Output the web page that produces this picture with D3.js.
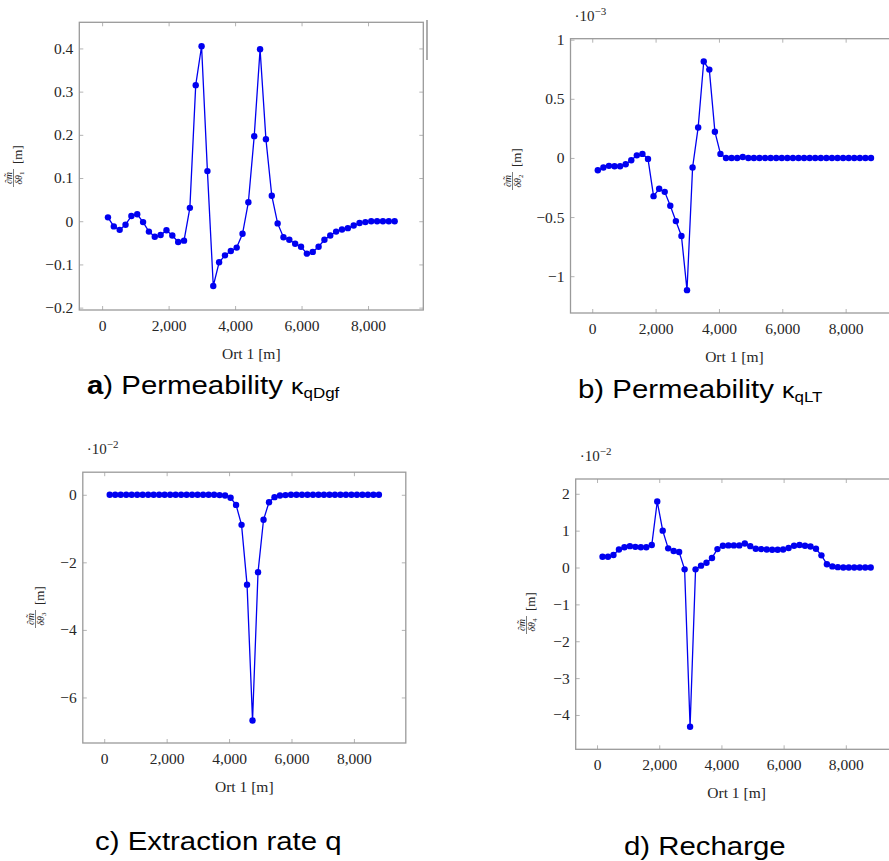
<!DOCTYPE html>
<html>
<head>
<meta charset="utf-8">
<script src="https://cdn.jsdelivr.net/npm/d3@7"></script>
<style>
  html, body { margin: 0; padding: 0; background: #ffffff; }
  svg { display: block; }
</style>
</head>
<body>
<script>
// Observation locations along the profile [m]
const location_m = [176, 352, 528, 704, 880, 1056, 1232, 1408, 1584, 1760,
  1936, 2112, 2288, 2464, 2640, 2816, 2992, 3168, 3344, 3520,
  3696, 3872, 4048, 4224, 4400, 4576, 4752, 4928, 5104, 5280,
  5456, 5632, 5808, 5984, 6160, 6336, 6512, 6688, 6864, 7040,
  7216, 7392, 7568, 7744, 7920, 8096, 8272, 8448, 8624, 8800];

// Sensitivity of the simulated head to permeability κ_qDgf [m]
const sensKqDgf = [0.009, -0.012, -0.020, -0.008, 0.012, 0.016, -0.002, -0.024, -0.036, -0.032,
  -0.021, -0.033, -0.048, -0.045, 0.031, 0.315, 0.405, 0.116, -0.150, -0.095,
  -0.079, -0.069, -0.061, -0.029, 0.044, 0.197, 0.398, 0.190, 0.059, -0.005,
  -0.037, -0.043, -0.052, -0.059, -0.075, -0.071, -0.059, -0.043, -0.033, -0.024,
  -0.019, -0.016, -0.010, -0.004, -0.002, 0, 0, 0, 0, 0];

// Sensitivity to permeability κ_qLT [m], in units of 1e-3
const sensKqLT = [-0.104, -0.081, -0.067, -0.070, -0.070, -0.053, -0.020, 0.022, 0.034, -0.008,
  -0.323, -0.261, -0.287, -0.404, -0.534, -0.660, -1.118, -0.081, 0.258, 0.815,
  0.747, 0.222, 0.034, 0, 0, 0, 0.008, 0, 0, 0,
  0, 0, 0, 0, 0, 0, 0, 0, 0, 0,
  0, 0, 0, 0, 0, 0, 0, 0, 0, 0];

// Sensitivity to the extraction rate q [m], in units of 1e-2
const sensExtraction = [0, 0, 0, 0, 0, 0, 0, 0, 0, 0,
  0, 0, 0, 0, 0, 0, 0, 0, 0, 0,
  -0.01, -0.02, -0.09, -0.30, -0.89, -2.66, -6.68, -2.29, -0.74, -0.22,
  -0.07, -0.02, -0.01, 0, 0, 0, 0, 0, 0, 0,
  0, 0, 0, 0, 0, 0, 0, 0, 0, 0];

// Sensitivity to recharge [m], in units of 1e-2
const sensRecharge = [0.29, 0.29, 0.34, 0.49, 0.55, 0.58, 0.56, 0.55, 0.55, 0.61,
  1.79, 1.00, 0.52, 0.45, 0.42, -0.05, -4.32, -0.05, 0.05, 0.13,
  0.26, 0.50, 0.59, 0.60, 0.60, 0.60, 0.65, 0.58, 0.51, 0.50,
  0.49, 0.48, 0.48, 0.49, 0.53, 0.59, 0.61, 0.59, 0.57, 0.51,
  0.33, 0.09, 0.03, 0.01, 0, 0, 0, 0, 0, 0];

// Axis ticks
const xTicks = [0, 2000, 4000, 6000, 8000];
const yTicksA = [-0.2, -0.1, 0, 0.1, 0.2, 0.3, 0.4];
const yTicksB = [-1, -0.5, 0, 0.5, 1];
const yTicksC = [-6, -4, -2, 0];
const yTicksD = [-4, -3, -2, -1, 0, 1, 2];

// Texts
const xAxisLabel = "Ort 1 [m]";
const parameterIndex = ["1", "2", "3", "4"];
const scaleExponents = [null, "−3", "−2", "−2"];
const captionLetters = ["a", "b", "c", "d"];
const captionTexts = [") Permeability ", ") Permeability ", ") Extraction rate q", ") Recharge"];
const captionSubscripts = ["qDgf", "qLT", null, null];

const W = 889, H = 861;
const serif = "'Liberation Serif', 'DejaVu Serif', serif";
const sans = "'Liberation Sans', Arial, sans-serif";
const markColor = "#0000f0";
const frameColor = "#9a9a9a";
const tickColor = "#b4b4b4";
const textColor = "#262626";

const svg = d3.select("body").append("svg")
  .attr("width", W).attr("height", H)
  .attr("viewBox", `0 0 ${W} ${H}`);

// Panel frames and label anchors
const panels = [
  { values: sensKqDgf, yTicks: yTicksA, left: 79.3, right: 423.3, top: 22.3, bottom: 310,
    ylab: [15, 167], cap: [87, 394] },
  { values: sensKqLT, yTicks: yTicksB, left: 570.5, right: 898.3, top: 38.7, bottom: 313,
    ylab: [514, 170], cap: [578, 398] },
  { values: sensExtraction, yTicks: yTicksC, left: 82.8, right: 405.8, top: 472.2, bottom: 743,
    ylab: [37, 608], cap: [95, 850] },
  { values: sensRecharge, yTicks: yTicksD, left: 575.7, right: 897.5, top: 479, bottom: 749.3,
    ylab: [528, 614], cap: [624, 855] }
];

// Axis limits enlarged by 10 % of the data range on each side
function enlarged(ext) {
  const pad = (ext[1] - ext[0]) * 0.1;
  return [ext[0] - pad, ext[1] + pad];
}

const xFmt = d3.format(",");
const yFmt = d3.format("");

panels.forEach((p, i) => {
  const x = d3.scaleLinear().domain(enlarged(d3.extent(location_m))).range([p.left, p.right]);
  const y = d3.scaleLinear().domain(enlarged(d3.extent(p.values))).range([p.bottom, p.top]);
  const g = svg.append("g");

  // inward ticks on all four sides
  const styleAxis = sel => {
    sel.select(".domain").remove();
    sel.selectAll(".tick line").attr("stroke", tickColor).attr("stroke-width", 1);
    sel.selectAll(".tick text").attr("fill", textColor)
      .attr("font-family", serif).attr("font-size", 15.5);
  };
  g.append("g").attr("transform", `translate(0,${p.bottom})`)
    .call(d3.axisBottom(x).tickValues(xTicks).tickFormat(xFmt).tickSizeInner(-4).tickSizeOuter(0).tickPadding(9.5))
    .call(styleAxis);
  g.append("g").attr("transform", `translate(0,${p.top})`)
    .call(d3.axisTop(x).tickValues(xTicks).tickFormat("").tickSizeInner(-4).tickSizeOuter(0))
    .call(styleAxis);
  g.append("g").attr("transform", `translate(${p.left},0)`)
    .call(d3.axisLeft(y).tickValues(p.yTicks).tickFormat(yFmt).tickSizeInner(-4).tickSizeOuter(0).tickPadding(6))
    .call(styleAxis);
  g.append("g").attr("transform", `translate(${p.right},0)`)
    .call(d3.axisRight(y).tickValues(p.yTicks).tickFormat("").tickSizeInner(-4).tickSizeOuter(0))
    .call(styleAxis);

  // frame
  g.append("rect")
    .attr("x", p.left).attr("y", p.top)
    .attr("width", p.right - p.left).attr("height", p.bottom - p.top)
    .attr("fill", "none").attr("stroke", frameColor).attr("stroke-width", 1.3);

  // series line and markers
  const pts = location_m.map((d, k) => [d, p.values[k]]);
  g.append("path").datum(pts)
    .attr("fill", "none").attr("stroke", markColor).attr("stroke-width", 1.3)
    .attr("d", d3.line().x(d => x(d[0])).y(d => y(d[1])));
  g.selectAll("circle.pt").data(pts).join("circle")
    .attr("class", "pt")
    .attr("cx", d => x(d[0])).attr("cy", d => y(d[1])).attr("r", 3.2)
    .attr("fill", markColor);

  // x axis label
  g.append("text")
    .attr("x", (p.left + p.right) / 2)
    .attr("y", p.bottom + 49)
    .attr("text-anchor", "middle")
    .attr("font-family", serif).attr("font-size", 15.5).attr("fill", textColor)
    .text(xAxisLabel);

  // scale factor above the axis
  if (scaleExponents[i]) {
    const t = g.append("text")
      .attr("x", p.left + 4).attr("y", p.top - 18)
      .attr("font-family", serif).attr("font-size", 15).attr("fill", textColor);
    t.append("tspan").text("·10");
    t.append("tspan").attr("font-size", 11).attr("dy", -6).text(scaleExponents[i]);
  }

  // rotated y axis label: ∂m̃/δθ_i [m]
  const lab = g.append("g")
    .attr("transform", `translate(${p.ylab[0]},${p.ylab[1]}) rotate(-90)`)
    .attr("font-family", serif).attr("fill", textColor);
  lab.append("text").attr("x", -11).attr("y", -3.5)
    .attr("text-anchor", "middle").attr("font-size", 10).attr("font-style", "italic")
    .text("∂m\u0303");
  lab.append("line").attr("x1", -20).attr("x2", -2).attr("y1", -1.5).attr("y2", -1.5)
    .attr("stroke", textColor).attr("stroke-width", 0.6);
  const den = lab.append("text").attr("x", -11).attr("y", 7)
    .attr("text-anchor", "middle").attr("font-size", 10).attr("font-style", "italic");
  den.append("tspan").text("δθ");
  den.append("tspan").attr("font-size", 7).attr("dy", 1.5).attr("font-style", "normal").text(parameterIndex[i]);
  lab.append("text").attr("x", 3).attr("y", 6.5).attr("font-size", 13).text("[m]");

  // caption below the panel
  const cap = svg.append("g")
    .attr("transform", `translate(${p.cap[0]},${p.cap[1]}) scale(1.13,1)`);
  const ct = cap.append("text").attr("x", 0).attr("y", 0)
    .attr("font-family", sans).attr("font-size", 26).attr("fill", "#000");
  ct.append("tspan").attr("font-weight", i === 0 ? "bold" : "normal").text(captionLetters[i]);
  ct.append("tspan").text(captionTexts[i]);
  if (captionSubscripts[i]) {
    ct.append("tspan").attr("font-size", 22).text("κ");
    ct.append("tspan").attr("font-size", 15).attr("dy", 4).text(captionSubscripts[i]);
  }
});

// short vertical rule at the upper right of the first panel
svg.append("line")
  .attr("x1", 427).attr("x2", 427).attr("y1", 20).attr("y2", 60)
  .attr("stroke", "#777").attr("stroke-width", 1.2);
</script>
</body>
</html>
